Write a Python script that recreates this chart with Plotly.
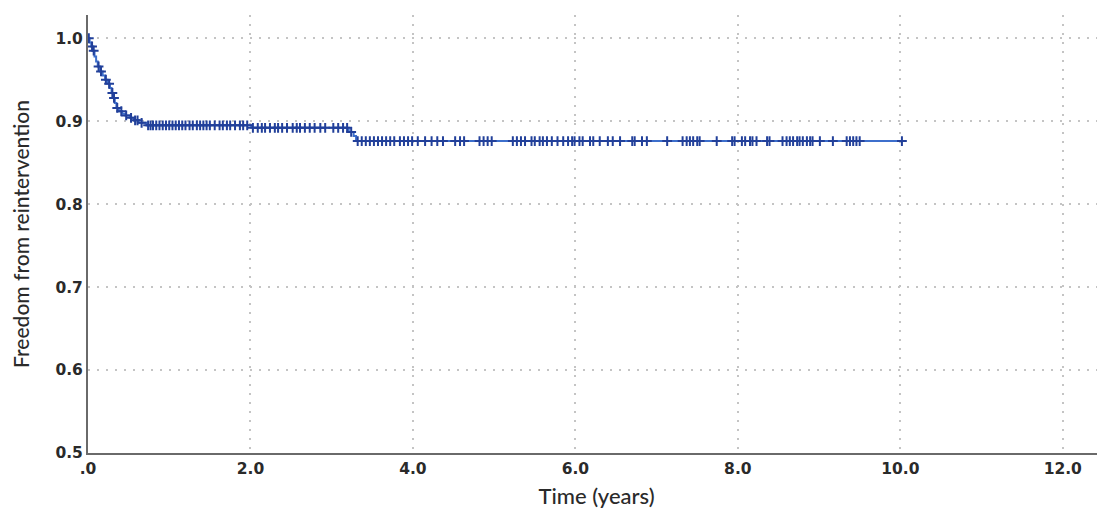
import plotly.graph_objects as go

# Kaplan-Meier step data (event times and survival after each event)
event_times = [0.0, 0.02, 0.04, 0.06, 0.08, 0.10, 0.12, 0.15, 0.18, 0.21, 0.24, 0.27, 0.29,
               0.31, 0.33, 0.35, 0.38, 0.42, 0.46, 0.52, 0.57, 0.62, 0.72, 2.01, 3.21,
               3.27, 3.30]
survival = [1.0, 0.995, 0.99, 0.985, 0.978, 0.972, 0.966, 0.960, 0.955, 0.950, 0.945, 0.940,
            0.934, 0.928, 0.922, 0.916, 0.912, 0.909, 0.907, 0.904, 0.901, 0.898, 0.895,
            0.892, 0.887, 0.882, 0.876]
end_time = 10.05

# Censored observation times
censor_times = [0.01, 0.05, 0.07, 0.13, 0.16, 0.22, 0.26, 0.30, 0.32, 0.36, 0.41, 0.47,
                0.53, 0.58, 0.61, 0.66, 0.74, 0.77, 0.80, 0.84, 0.88, 0.92, 0.96, 1.00,
                1.04, 1.08, 1.12, 1.16, 1.20, 1.25, 1.29, 1.34, 1.38, 1.42, 1.46, 1.50,
                1.56, 1.62, 1.66, 1.71, 1.75, 1.81, 1.87, 1.91, 1.96,
                2.03, 2.09, 2.14, 2.18, 2.24, 2.30, 2.34, 2.39, 2.45, 2.52, 2.57, 2.61,
                2.67, 2.73, 2.79, 2.86, 2.92, 3.02, 3.08, 3.14, 3.19, 3.24,
                3.32, 3.37, 3.42, 3.47, 3.52, 3.57, 3.62, 3.67, 3.72, 3.77, 3.84, 3.89,
                3.94, 3.99, 4.06, 4.15, 4.23, 4.30, 4.37, 4.52, 4.58, 4.63, 4.82, 4.87,
                4.92, 4.97, 5.23, 5.28, 5.33, 5.38, 5.46, 5.50, 5.56, 5.60, 5.65, 5.71,
                5.78, 5.85, 5.91, 5.96, 5.99, 6.05, 6.09, 6.18, 6.22, 6.30, 6.40, 6.46,
                6.55, 6.70, 6.73, 6.82, 6.88, 7.13, 7.32, 7.37, 7.41, 7.45, 7.50, 7.53,
                7.74, 7.93, 7.96, 8.05, 8.09, 8.15, 8.18, 8.23, 8.36, 8.39, 8.55, 8.60,
                8.64, 8.68, 8.73, 8.76, 8.80, 8.85, 8.89, 8.92, 9.01, 9.17, 9.34, 9.38,
                9.42, 9.46, 9.50, 10.02]

x_tickvals = [0, 2, 4, 6, 8, 10, 12]
x_ticktext = [".0", "2.0", "4.0", "6.0", "8.0", "10.0", "12.0"]
y_tickvals = [0.5, 0.6, 0.7, 0.8, 0.9, 1.0]
y_ticktext = ["0.5", "0.6", "0.7", "0.8", "0.9", "1.0"]


def surv_at(t):
    s = survival[0]
    for et, sv in zip(event_times, survival):
        if et <= t:
            s = sv
    return s


line_x = event_times + [end_time]
line_y = survival + [survival[-1]]
censor_y = [surv_at(t) for t in censor_times]

fig = go.Figure()
fig.add_trace(go.Scatter(x=line_x, y=line_y, mode="lines", line_shape="hv",
                         line=dict(color="#3d6fcc", width=2), hoverinfo="skip",
                         showlegend=False))
fig.add_trace(go.Scatter(x=censor_times, y=censor_y, mode="markers",
                         marker=dict(symbol="cross-thin", size=7,
                                     line=dict(color="#22409a", width=2)),
                         showlegend=False))

grid = dict(showgrid=True, gridcolor="#c4c4c4", griddash="2px,7px", gridwidth=2)
tickfont = dict(size=15.5, color="#2a2a2a", weight="bold", family="DejaVu Sans")
fig.update_layout(
    width=1097, height=501,
    margin=dict(l=80, r=0, t=7, b=56),
    paper_bgcolor="white", plot_bgcolor="white",
    font=dict(family="DejaVu Sans", color="#333"),
    xaxis=dict(range=[0, 12.52], tickvals=x_tickvals, ticktext=x_ticktext,
               showline=True, linecolor="#6a6a6a", linewidth=2, ticks="",
               tickfont=tickfont, zeroline=False, automargin=False,
               title=dict(text="Time (years)",
                          font=dict(size=22, color="#2a2a2a", family="Lato", weight=500),
                          standoff=14),
               **grid),
    yaxis=dict(range=[0.5, 1.028], tickvals=y_tickvals, ticktext=y_ticktext,
               showline=True, linecolor="#6a6a6a", linewidth=2, ticks="",
               tickfont=tickfont, zeroline=False, automargin=False,
               title=dict(text="Freedom from reintervention",
                          font=dict(size=21, color="#2a2a2a", family="Lato", weight=500),
                          standoff=24),
               **grid),
)
fig.write_html("out.html")
